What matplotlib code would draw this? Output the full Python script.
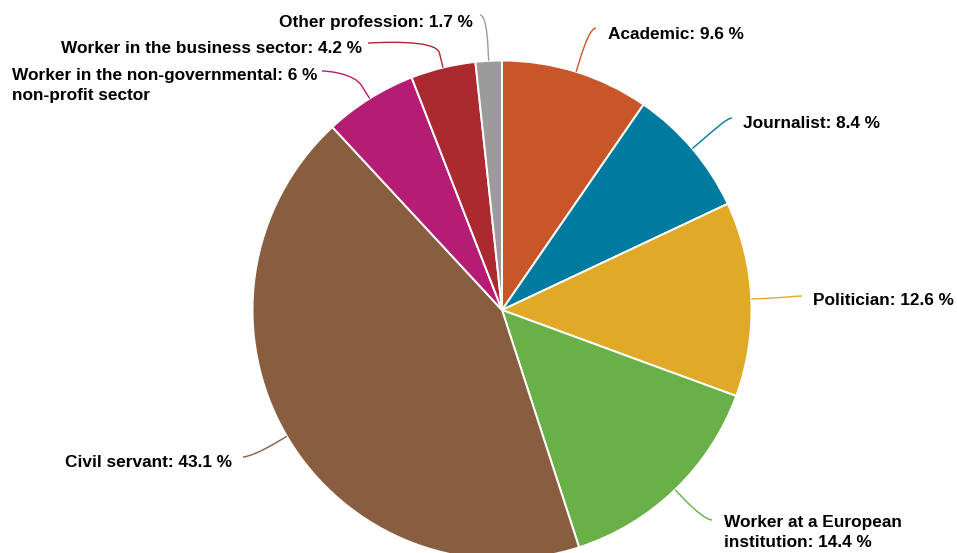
import numpy as np
import matplotlib
matplotlib.use("Agg")
import matplotlib.pyplot as plt
from matplotlib.path import Path
from matplotlib.patches import PathPatch

# Share of respondents by profession (%)
categories = [
    "Academic",
    "Journalist",
    "Politician",
    "Worker at a European\ninstitution",
    "Civil servant",
    "Worker in the non-governmental\nnon-profit sector",
    "Worker in the business sector",
    "Other profession",
]
values = [9.6, 8.4, 12.6, 14.4, 43.1, 6, 4.2, 1.7]
colors = ["#C85629", "#007BA0", "#E0AA28", "#6AB048",
          "#895E40", "#B51C73", "#AA2A30", "#9B9B9B"]

W, H = 957, 553
fig = plt.figure(figsize=(W / 100, H / 100), dpi=100)
ax = fig.add_axes([0, 0, 1, 1])

cx, cy, R = 502, 310, 249.5

# y axis is flipped (pixel-style coordinates), so counterclockwise in data
# space runs clockwise on screen; start at 12 o'clock.
wedges, _ = ax.pie(values, colors=colors, startangle=-90, counterclock=True,
                   center=(cx, cy), radius=R,
                   wedgeprops=dict(edgecolor="white", linewidth=1.4))
ax.set_xlim(0, W)
ax.set_ylim(H, 0)
ax.set_aspect("auto")
ax.axis("off")

font = dict(family=["Liberation Sans", "DejaVu Sans"], fontsize=12.4,
            fontweight="bold", color="#000000")

# Label layout: (connector start, text anchor x, first baseline y, side)
layout = [
    ((596, 28), 608, 39, "right"),
    ((732, 118), 743, 128, "right"),
    ((802, 296), 813, 305, "right"),
    ((712, 520), 724, 527, "right"),
    ((243, 457), 232, 467, "left"),
    ((322, 71), 12, 80, "left"),
    ((368, 43), 362, 53, "left"),
    ((480, 15), 473, 27, "left"),
]

for wedge, cat, val, col, (start, tx, ty, side) in zip(
        wedges, categories, values, colors, layout):
    mid = np.deg2rad((wedge.theta1 + wedge.theta2) / 2)
    ux, uy = np.cos(mid), np.sin(mid)
    touch = np.array([cx + R * ux, cy + R * uy])
    brk = np.array([cx + (R + 15) * ux, cy + (R + 15) * uy])
    sx, sy = start
    c1 = (sx + (5 if side == "left" else -5), sy)
    c2 = 2 * brk - touch
    verts = [(sx, sy), c1, tuple(c2), tuple(brk), tuple(touch)]
    codes = [Path.MOVETO, Path.CURVE4, Path.CURVE4, Path.CURVE4, Path.LINETO]
    ax.add_patch(PathPatch(Path(verts, codes), facecolor="none",
                           edgecolor=col, linewidth=1.0))

    val_txt = f"{val:g} %"
    lines = cat.split("\n")
    if len(lines) == 1:
        text_lines = [f"{lines[0]}: {val_txt}"]
    elif cat.startswith("Worker at"):
        text_lines = [lines[0], f"{lines[1]}: {val_txt}"]
    else:
        text_lines = [f"{lines[0]}: {val_txt}", lines[1]]

    ha = "left" if side == "right" else "right"
    if len(text_lines) > 1:
        ha = "left"
    for i, line in enumerate(text_lines):
        ax.text(tx, ty + 20 * i, line, ha=ha, va="baseline", **font)

fig.savefig("out.png", dpi=100, facecolor="white")
